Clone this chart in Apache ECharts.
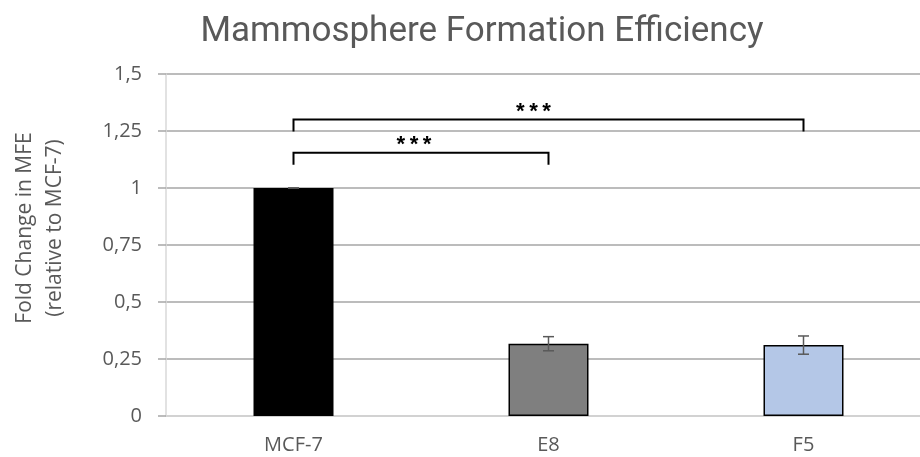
<!DOCTYPE html>
<html lang="en">
<head>
    <meta charset="UTF-8">
    <title>Mammosphere Formation Efficiency</title>
    <style>
        html,body{margin:0;padding:0;background:#fff;}
        #container{width:920px;height:457px;}
    </style>
    <script src="https://cdn.jsdelivr.net/npm/echarts@6/dist/echarts.min.js"></script>
</head>
<body>
<div id="container"></div>
<script type="text/javascript">
    // 数据
    const categories = ['MCF-7', 'E8', 'F5'];
    const values = [1, 0.317, 0.311];
    const errors = [0, 0.031, 0.040];
    const barColors = ['#000000', '#7f7f7f', '#b4c7e7'];
    // 显著性括号: [起始类别, 结束类别, 高度, 标记]
    const brackets = [
        [0, 2, 1.30, '***'],
        [0, 1, 1.155, '***']
    ];
    const yTicks = [0, 0.25, 0.5, 0.75, 1, 1.25, 1.5];

    var myChart = echarts.init(document.getElementById('container'));

    const textColor = '#595959';

    var option = {
        backgroundColor: '#fff',
        animation: false,
        title: {
            text: 'Mammosphere Formation Efficiency',
            left: 477,
            top: 10,
            textAlign: 'center',
            textStyle: {
                fontFamily: 'Roboto',
                fontSize: 35,
                fontWeight: 'normal',
                color: textColor
            }
        },
        grid: {
            left: 166,
            top: 74,
            width: 765,
            height: 342,
            outerBoundsMode: 'none'
        },
        xAxis: {
            type: 'category',
            data: categories,
            axisLine: {lineStyle: {color: '#d9d9d9', width: 1.5}},
            axisTick: {show: false},
            axisLabel: {
                margin: 19,
                fontFamily: 'Open Sans',
                fontSize: 20,
                color: textColor
            }
        },
        yAxis: {
            type: 'value',
            min: yTicks[0],
            max: yTicks[yTicks.length - 1],
            interval: 0.25,
            name: 'Fold Change in MFE\n(relative to MCF-7)',
            nameLocation: 'middle',
            nameRotate: 90,
            nameGap: 96,
            nameTextStyle: {
                fontFamily: 'Open Sans',
                fontSize: 21,
                lineHeight: 30,
                color: textColor,
                padding: [0, 0, 0, 34]
            },
            axisLine: {show: true, lineStyle: {color: '#d9d9d9', width: 1.5}},
            axisTick: {show: true, length: 8, lineStyle: {color: '#a6a6a6', width: 1.5}},
            axisLabel: {
                margin: 24,
                fontFamily: 'Open Sans',
                fontSize: 20,
                color: textColor,
                formatter: v => String(v).replace('.', ',')
            },
            splitLine: {lineStyle: {color: '#a6a6a6', width: 1.5}}
        },
        series: [
            {
                type: 'bar',
                barWidth: 80,
                data: values.map((v, i) => ({
                    value: v,
                    itemStyle: {color: barColors[i], borderColor: '#000', borderWidth: 1.5}
                })),
                z: 2
            },
            {
                // 误差线
                type: 'custom',
                data: values.map((v, i) => [i, v - errors[i], v + errors[i]]),
                renderItem: function (params, api) {
                    const lo = api.coord([api.value(0), api.value(1)]);
                    const hi = api.coord([api.value(0), api.value(2)]);
                    const w = 5.5;
                    const style = {stroke: '#595959', lineWidth: 1.5};
                    return {
                        type: 'group',
                        children: [
                            {type: 'line', shape: {x1: hi[0], y1: hi[1], x2: lo[0], y2: lo[1]}, style},
                            {type: 'line', shape: {x1: hi[0] - w, y1: hi[1], x2: hi[0] + w, y2: hi[1]}, style},
                            {type: 'line', shape: {x1: lo[0] - w, y1: lo[1], x2: lo[0] + w, y2: lo[1]}, style}
                        ]
                    };
                },
                z: 3
            },
            {
                // 显著性括号
                type: 'custom',
                data: brackets.map(b => [b[0], b[1], b[2]]),
                renderItem: function (params, api) {
                    const a = api.coord([api.value(0), api.value(2)]);
                    const b = api.coord([api.value(1), api.value(2)]);
                    const leg = 12;
                    const mark = brackets[params.dataIndex][3];
                    const shift = params.dataIndex === 0 ? -15 : -7;
                    return {
                        type: 'group',
                        children: [
                            {
                                type: 'polyline',
                                shape: {points: [[a[0], a[1] + leg], [a[0], a[1]], [b[0], b[1]], [b[0], b[1] + leg]]},
                                style: {stroke: '#000', lineWidth: 2, fill: null}
                            },
                            {
                                type: 'text',
                                x: (a[0] + b[0]) / 2 + shift,
                                y: a[1] - 6,
                                style: {
                                    text: mark,
                                    fill: '#000',
                                    font: 'bold 22px "Liberation Mono"',
                                    align: 'center',
                                    verticalAlign: 'middle'
                                }
                            }
                        ]
                    };
                },
                z: 4
            }
        ]
    };

    myChart.setOption(option);
</script>
</body>
</html>
